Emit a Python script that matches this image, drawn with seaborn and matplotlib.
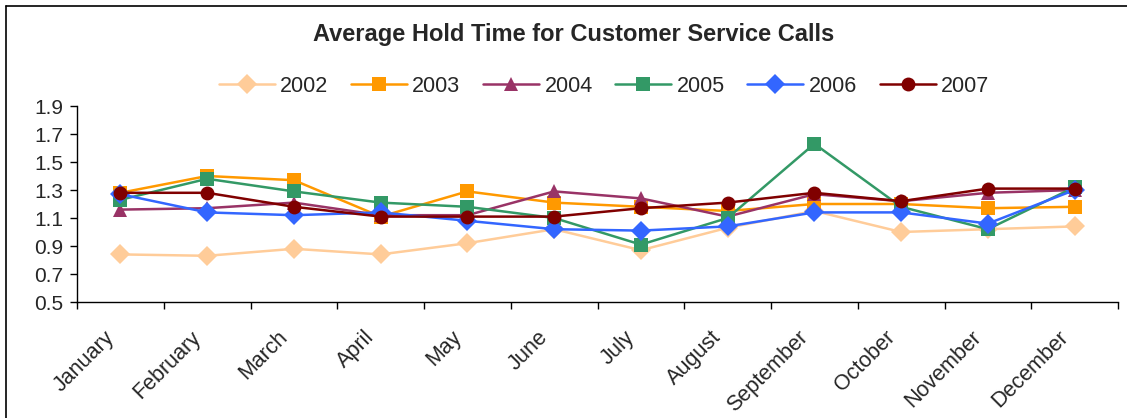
import matplotlib
matplotlib.use("Agg")
import numpy as np
import pandas as pd
import seaborn as sns
from matplotlib import pyplot as plt
from matplotlib.lines import Line2D
from matplotlib.ticker import FixedLocator
from matplotlib.transforms import ScaledTranslation

months = ["January", "February", "March", "April", "May", "June",
          "July", "August", "September", "October", "November", "December"]
years = ["2002", "2003", "2004", "2005", "2006", "2007"]

hold_2002 = [0.84, 0.83, 0.88, 0.84, 0.92, 1.02, 0.87, 1.03, 1.15, 1.00, 1.02, 1.04]
hold_2003 = [1.28, 1.40, 1.37, 1.11, 1.29, 1.21, 1.18, 1.15, 1.20, 1.20, 1.17, 1.18]
hold_2004 = [1.16, 1.17, 1.21, 1.12, 1.12, 1.29, 1.24, 1.11, 1.27, 1.22, 1.28, 1.30]
hold_2005 = [1.23, 1.38, 1.29, 1.21, 1.18, 1.10, 0.91, 1.10, 1.63, 1.18, 1.02, 1.32]
hold_2006 = [1.27, 1.14, 1.12, 1.14, 1.08, 1.02, 1.01, 1.04, 1.14, 1.14, 1.06, 1.30]
hold_2007 = [1.28, 1.28, 1.18, 1.11, 1.11, 1.11, 1.17, 1.21, 1.28, 1.22, 1.31, 1.31]
y_ticks = [0.5, 0.7, 0.9, 1.1, 1.3, 1.5, 1.7, 1.9]

series = [hold_2002, hold_2003, hold_2004, hold_2005, hold_2006, hold_2007]
colors = ["#FFCC99", "#FF9900", "#993366", "#339966", "#3366FF", "#800000"]
marker_styles = ["D", "s", "^", "s", "D", "o"]

# long format table for seaborn
df = pd.DataFrame({
    "month": months * len(years),
    "year": np.repeat(years, len(months)),
    "hold": np.concatenate(series),
})

sns.set_style("white")
plt.rcParams["font.family"] = ["Liberation Sans", "DejaVu Sans"]

fig = plt.figure(figsize=(11.27, 4.18), dpi=100)
ax = fig.add_axes([77 / 1127, 1 - 302 / 418, (1118 - 77) / 1127, (302 - 106) / 418])

sns.lineplot(data=df, x="month", y="hold", hue="year", style="year",
             palette=dict(zip(years, colors)),
             markers=dict(zip(years, marker_styles)), dashes=False,
             linewidth=1.8, markersize=10, markeredgewidth=0,
             sort=False, ax=ax)

handles, labels = ax.get_legend_handles_labels()
ax.get_legend().remove()
fig.legend(handles, labels, loc="center", bbox_to_anchor=(604 / 1127, 1 - 86 / 418),
           ncol=6, frameon=False, fontsize=15.5, handlelength=2.6,
           handletextpad=0.25, columnspacing=1.05)

ax.set_xlim(-0.5, 11.5)
ax.set_ylim(0.5, 1.9)
ax.set_yticks(y_ticks)
ax.set_yticklabels([f"{v:.1f}" for v in y_ticks])
ax.set_xticks(range(len(months)))
ax.xaxis.set_minor_locator(FixedLocator(np.arange(-0.5, 12, 1)))
ax.tick_params(axis="x", which="major", length=0, labelsize=15.5, pad=10)
ax.tick_params(axis="x", which="minor", length=5, width=1, color="black", direction="out", bottom=True)
ax.tick_params(axis="y", length=5, width=1, color="black", direction="out", left=True, labelsize=15, pad=5)
ax.set_xticklabels(months, rotation=45, ha="right", rotation_mode="anchor")
# Excel puts the rotated month labels a bit left of the category centre
shift = ScaledTranslation(-12 / 72, -8 / 72, fig.dpi_scale_trans)
for lab in ax.get_xticklabels():
    lab.set_transform(lab.get_transform() + shift)
ax.set_xlabel("")
ax.set_ylabel("")

sns.despine(ax=ax)
for side in ["left", "bottom"]:
    ax.spines[side].set_color("black")
    ax.spines[side].set_linewidth(1)

fig.text(574 / 1127, 1 - 35 / 418, "Average Hold Time for Customer Service Calls",
         ha="center", va="center", fontsize=17, fontweight="bold")

# chart border (top and left visible)
fig.add_artist(Line2D([6 / 1127, 1], [1 - 6 / 418, 1 - 6 / 418], color="black", lw=1.2))
fig.add_artist(Line2D([6 / 1127, 6 / 1127], [0, 1 - 6 / 418], color="black", lw=1.2))

fig.savefig("out.png", dpi=100)
